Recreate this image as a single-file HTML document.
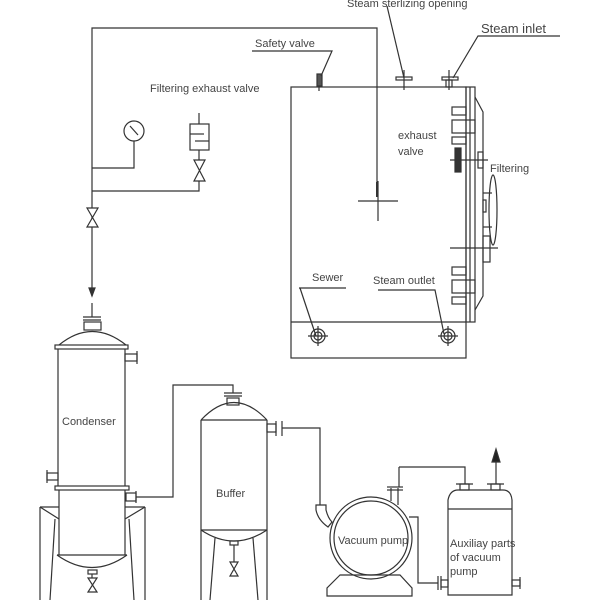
<!DOCTYPE html>
<html><head><meta charset="utf-8"><style>html,body{margin:0;padding:0;background:#fff}svg{display:block}text{font-family:"Liberation Sans",sans-serif;fill:#444;font-size:11px}</style></head>
<body>
<svg width="600" height="600" viewBox="0 0 600 600" xmlns="http://www.w3.org/2000/svg">
<g fill="none" stroke="#333" stroke-width="1.2">
<polyline points="377,182 377,28 92,28 92,296"/>
<line x1="377" y1="182" x2="377" y2="197" stroke-width="2"/>
<line x1="358" y1="201" x2="398" y2="201"/>
<line x1="378" y1="181" x2="378" y2="221"/>
<polygon points="92,296 89,288 95,288" fill="#333"/>
<polyline points="92,303 92,317"/>
<line x1="83" y1="317" x2="101" y2="317"/><line x1="83" y1="320" x2="101" y2="320"/>
<circle cx="134" cy="131" r="10"/><line x1="130" y1="126" x2="138" y2="135"/>
<polyline points="134,141 134,168 92,168"/>
<line x1="199" y1="113" x2="199" y2="124"/>
<rect x="190" y="124" width="19" height="26"/>
<line x1="190" y1="134" x2="204" y2="134"/><line x1="195" y1="141" x2="209" y2="141"/>
<line x1="199" y1="150" x2="199" y2="160"/>
<polygon points="194,160 205,160 194,181 205,181"/>
<polyline points="199,181 199,191 92,191"/>
<polygon points="87,208 98,208 87,227 98,227" fill="#fff"/>
<rect x="291" y="87" width="175" height="271"/>
<line x1="291" y1="322" x2="466" y2="322"/>
<rect x="466" y="87" width="9" height="235"/>
<polyline points="475,97 483,112 483,296 475,310"/>
<line x1="470" y1="87" x2="470" y2="322"/>
<rect x="452" y="107" width="14" height="8"/><rect x="452" y="120" width="23" height="13"/><rect x="452" y="137" width="14" height="7"/>
<rect x="452" y="267" width="14" height="8"/><rect x="452" y="280" width="23" height="13"/><rect x="452" y="297" width="14" height="7"/>
<rect x="455" y="148" width="6" height="24" fill="#333"/>
<line x1="450" y1="160" x2="488" y2="160"/>
<rect x="478" y="152" width="5" height="16"/>
<line x1="483" y1="193" x2="492" y2="193"/><line x1="483" y1="227" x2="492" y2="227"/>
<ellipse cx="493" cy="210" rx="4" ry="35"/>
<rect x="483" y="200" width="3" height="12"/>
<line x1="450" y1="248" x2="498" y2="248"/>
<rect x="483" y="236" width="7" height="26"/>
<rect x="317" y="74" width="5" height="12" fill="#555"/>
<line x1="319" y1="86" x2="319" y2="91"/>
<rect x="396" y="77" width="16" height="3"/><line x1="404" y1="70" x2="404" y2="90"/>
<rect x="442" y="77" width="16" height="3"/><rect x="446" y="80" width="6" height="7"/><line x1="449" y1="70" x2="449" y2="90"/>
<polyline points="252,51 332,51 321,76"/>
<polyline points="387,6 404,78"/>
<polyline points="560,36 478,36 453,78"/>
<polyline points="299,288 346,288"/>
<polyline points="300,288 316,336"/>
<polyline points="378,290 435,290 444,334"/>
<circle cx="318" cy="336" r="7"/><circle cx="318" cy="336" r="4"/><line x1="308" y1="336" x2="328" y2="336"/><line x1="318" y1="326" x2="318" y2="346"/>
<circle cx="448" cy="336" r="7"/><circle cx="448" cy="336" r="4"/><line x1="438" y1="336" x2="458" y2="336"/><line x1="448" y1="326" x2="448" y2="346"/>
<rect x="84" y="322" width="17" height="8"/>
<path d="M59,345 Q92,318 126,345"/>
<rect x="55" y="345" width="73" height="4"/>
<line x1="58" y1="349" x2="58" y2="486"/><line x1="125" y1="349" x2="125" y2="486"/>
<rect x="125" y="354" width="12" height="7"/><line x1="137" y1="351" x2="137" y2="364"/>
<rect x="47" y="473" width="11" height="7"/><line x1="47" y1="470" x2="47" y2="483"/>
<rect x="55" y="486" width="74" height="4"/>
<line x1="59" y1="490" x2="59" y2="555"/><line x1="125" y1="490" x2="125" y2="555"/>
<line x1="57" y1="555" x2="127" y2="555"/>
<path d="M57,555 Q92,580 127,555"/>
<rect x="126" y="493" width="10" height="8"/><line x1="136" y1="491" x2="136" y2="503"/>
<polyline points="136,497 173,497 173,385 233,385 233,393"/>
<line x1="40" y1="507" x2="40" y2="600"/><line x1="55" y1="519" x2="50" y2="600"/>
<line x1="40" y1="507" x2="59" y2="507"/><line x1="40" y1="507" x2="59" y2="519"/>
<line x1="145" y1="507" x2="145" y2="600"/><line x1="129" y1="519" x2="134" y2="600"/>
<line x1="125" y1="507" x2="145" y2="507"/><line x1="145" y1="507" x2="125" y2="519"/>
<rect x="88" y="570" width="9" height="4"/><line x1="92" y1="574" x2="92" y2="578"/>
<polygon points="88,578 97,578 88,592 97,592"/>
<line x1="224" y1="393" x2="242" y2="393"/><line x1="224" y1="396" x2="242" y2="396"/>
<rect x="227" y="398" width="12" height="7"/>
<path d="M201,420 Q234,385 267,420"/>
<line x1="201" y1="420" x2="267" y2="420"/>
<line x1="201" y1="420" x2="201" y2="600"/><line x1="267" y1="420" x2="267" y2="600"/>
<line x1="201" y1="530" x2="267" y2="530"/>
<path d="M201,530 Q234,552 267,530"/>
<rect x="267" y="424" width="9" height="8"/><line x1="276" y1="421" x2="276" y2="436"/><line x1="282" y1="421" x2="282" y2="436"/>
<polyline points="282,428 320,428 320,505"/>
<line x1="215" y1="538" x2="210" y2="600"/><line x1="253" y1="538" x2="258" y2="600"/>
<rect x="230" y="541" width="8" height="4"/><line x1="234" y1="545" x2="234" y2="562"/>
<polygon points="230,562 238,562 230,576 238,576"/>
<path d="M316,505 L326,505 L326,510 Q328,518 332,522 L328,527 Q318,520 316,510 Z"/>
<circle cx="371" cy="538" r="41"/><circle cx="371" cy="538" r="37"/>
<polygon points="340,575 327,588 327,596 412,596 412,588 400,575"/>
<line x1="391" y1="488" x2="391" y2="501"/><line x1="398" y1="488" x2="398" y2="505"/>
<line x1="387" y1="487" x2="403" y2="487"/><line x1="387" y1="490" x2="403" y2="490"/>
<polyline points="399,467 465,467 465,484"/><line x1="399" y1="467" x2="399" y2="487"/>
<polyline points="409,517 418,517 418,583 438,583"/>
<line x1="438" y1="576" x2="438" y2="590"/><line x1="441" y1="576" x2="441" y2="590"/><rect x="441" y="580" width="7" height="7"/>
<path d="M448,595 L448,500 Q450,490 458,490 L503,490 Q511,490 512,500 L512,595 Z"/>
<line x1="448" y1="509" x2="512" y2="509"/>
<rect x="460" y="484" width="9" height="6"/><line x1="456" y1="484" x2="473" y2="484"/>
<rect x="491" y="484" width="9" height="6"/><line x1="487" y1="484" x2="504" y2="484"/>
<line x1="496" y1="484" x2="496" y2="460"/>
<polygon points="496,449 492,462 500,462" fill="#222"/>
<rect x="512" y="580" width="8" height="6"/><line x1="520" y1="577" x2="520" y2="589"/>
</g>
<text x="347" y="7">Steam sterlizing opening</text>
<text x="481" y="33" style="font-size:13px">Steam inlet</text>
<text x="255" y="47">Safety valve</text>
<text x="150" y="92">Filtering exhaust valve</text>
<text x="398" y="139">exhaust</text>
<text x="398" y="155">valve</text>
<text x="490" y="172">Filtering</text>
<text x="312" y="281">Sewer</text>
<text x="373" y="284">Steam outlet</text>
<text x="62" y="425">Condenser</text>
<text x="216" y="497">Buffer</text>
<text x="338" y="544">Vacuum pump</text>
<text x="450" y="547">Auxiliay parts</text>
<text x="450" y="561">of vacuum</text>
<text x="450" y="575">pump</text>
</svg>
</body></html>
